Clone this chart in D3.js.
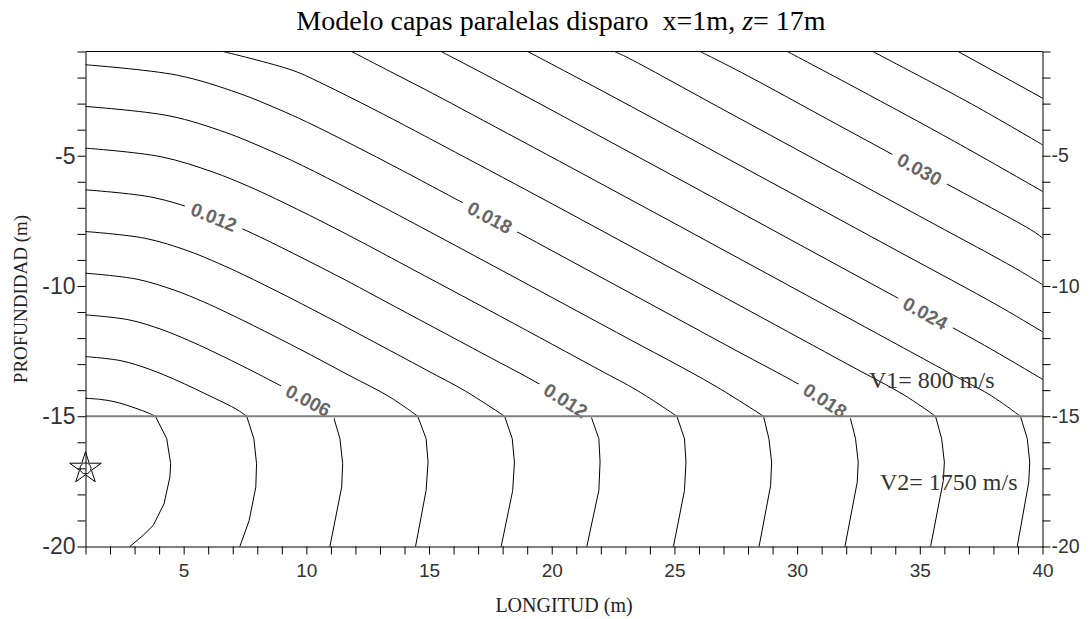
<!DOCTYPE html>
<html>
<head>
<meta charset="utf-8">
<script src="https://cdnjs.cloudflare.com/ajax/libs/d3/7.8.5/d3.min.js"></script>
<style>
  body { margin: 0; background: #fff; }
  svg { display: block; background: #fff; }
</style>
</head>
<body>
<svg width="1089" height="619"></svg>
<script>
// Contour levels (travel time, s)
var levels = [0.002, 0.004, 0.006, 0.008, 0.010, 0.012, 0.014, 0.016, 0.018,
              0.020, 0.022, 0.024, 0.026, 0.028, 0.030, 0.032, 0.034, 0.036];

// Upper layer (V1) contour lines, [x, z]
var upperLines = [
  [[1,-14.31],[1.57,-14.35],[2.12,-14.43],[2.63,-14.56],[3.10,-14.71],[3.55,-14.87],[3.85,-15]],
  [[1,-12.71],[2.45,-12.87],[3.62,-13.20],[4.59,-13.57],[5.47,-13.95],[6.31,-14.33],[7.13,-14.72],[7.57,-15]],
  [[1,-11.11],[2.77,-11.30],[4.13,-11.68],[5.20,-12.09],[6.13,-12.49],[7.83,-13.28],[9.46,-14.08],[10.26,-14.48],[11.10,-15]],
  [[1,-9.51],[3.10,-9.74],[4.65,-10.17],[5.81,-10.61],[6.78,-11.03],[8.52,-11.84],[10.17,-12.64],[11.78,-13.45],[13.38,-14.25],[14.54,-15]],
  [[1,-7.91],[3.43,-8.17],[5.17,-8.65],[6.42,-9.13],[7.44,-9.57],[9.22,-10.40],[10.88,-11.21],[12.50,-12.02],[14.90,-13.23],[16.49,-14.04],[18.08,-15]],
  [[1,-6.31],[3.75,-6.60],[5.69,-7.14],[7.02,-7.65],[8.09,-8.11],[9.91,-8.96],[11.59,-9.77],[13.21,-10.59],[17.22,-12.61],[19.60,-13.82],[21.60,-15]],
  [[1,-4.71],[4.08,-5.04],[6.20,-5.63],[7.63,-6.17],[8.74,-6.65],[10.60,-7.51],[12.30,-8.34],[13.93,-9.16],[17.94,-11.18],[21.92,-13.21],[23.50,-14.02],[25.10,-15]],
  [[1,-3.11],[4.41,-3.47],[6.72,-4.11],[8.24,-4.69],[9.40,-5.18],[11.30,-6.07],[13.01,-6.91],[14.65,-7.73],[18.67,-9.76],[22.64,-11.78],[26.61,-13.81],[28.63,-15]],
  [[1,-1.51],[4.74,-1.91],[7.24,-2.60],[8.85,-3.21],[10.05,-3.72],[11.99,-4.63],[13.71,-5.47],[15.37,-6.30],[19.39,-8.33],[23.37,-10.36],[27.34,-12.39],[30.51,-14.01],[32.15,-15]],
  [[6.60,-1],[9.46,-1.73],[10.71,-2.26],[12.69,-3.19],[14.42,-4.04],[16.08,-4.87],[20.12,-6.90],[24.10,-8.93],[28.07,-10.96],[32.03,-12.99],[34.40,-14.21],[35.64,-15]],
  [[11.84,-1],[13.38,-1.75],[15.13,-2.60],[16.80,-3.44],[20.84,-5.48],[24.83,-7.51],[28.80,-9.54],[32.76,-11.57],[36.72,-13.60],[37.91,-14.21],[39.10,-15]],
  [[15.49,-1],[15.84,-1.17],[17.52,-2.00],[21.57,-4.05],[25.55,-6.08],[29.53,-8.12],[33.49,-10.15],[37.45,-12.18],[40,-13.58]],
  [[19.02,-1],[22.29,-2.63],[26.28,-4.66],[30.25,-6.69],[34.22,-8.72],[38.18,-10.75],[40,-11.76]],
  [[22.55,-1],[23.02,-1.20],[27.01,-3.24],[30.98,-5.27],[34.95,-7.30],[38.91,-9.33],[40,-9.95]],
  [[26.05,-1],[27.74,-1.81],[31.71,-3.84],[35.68,-5.87],[39.64,-7.91],[40,-8.16]],
  [[29.60,-1],[32.44,-2.42],[36.41,-4.45],[40,-6.37]],
  [[33.08,-1],[37.14,-3.03],[40,-4.58]],
  [[36.56,-1],[40,-2.79]]
];

// Lower layer (V2) contour lines, levels 0.002 .. 0.022
var lowerLines = [
  [[3.85,-15],[4.31,-15.86],[4.47,-16.82],[4.44,-17.33],[4.20,-18.36],[3.76,-19.19],[3.35,-19.57],[2.81,-20]],
  [[7.57,-15],[7.86,-15.86],[7.97,-16.82],[7.94,-17.72],[7.67,-19.0],[7.29,-20]],
  [[11.10,-15],[11.37,-15.86],[11.48,-16.82],[11.44,-17.72],[10.96,-20]],
  [[14.54,-15],[14.88,-15.86],[14.96,-16.76],[14.88,-17.85],[14.45,-20]],
  [[18.08,-15],[18.39,-15.86],[18.48,-16.76],[18.41,-17.85],[17.94,-20]],
  [[21.60,-15],[21.92,-15.86],[21.97,-16.76],[21.92,-17.85],[21.43,-20]],
  [[25.10,-15],[25.41,-15.86],[25.47,-16.76],[25.41,-17.85],[24.96,-20]],
  [[28.63,-15],[28.85,-15.86],[28.96,-16.76],[28.92,-17.66],[28.45,-20]],
  [[32.15,-15],[32.38,-15.86],[32.49,-16.76],[32.45,-17.53],[31.95,-20]],
  [[35.64,-15],[35.89,-15.86],[36.00,-16.76],[35.96,-17.46],[35.44,-20]],
  [[39.10,-15],[39.38,-15.86],[39.48,-16.76],[39.44,-17.53],[38.97,-20]]
];

// Contour labels: level and x position along the line
var labelLevels = [0.012, 0.006, 0.018, 0.012, 0.030, 0.024, 0.018];
var labelX = [6.23, 10.08, 17.48, 20.57, 34.99, 35.23, 31.14];

// Axis tick labels
var xLabels = [5, 10, 15, 20, 25, 30, 35, 40];
var yLabels = [-5, -10, -15, -20];

// Model
var interfaceZ = -15;
var source = [1, -17];
var velocities = ["V1= 800 m/s", "V2= 1750 m/s"];

var svg = d3.select("svg"),
    width = +svg.attr("width"),
    height = +svg.attr("height");

var x = d3.scaleLinear().domain([1, 40]).range([85.5, 1042.5]);
var y = d3.scaleLinear().domain([-20, -1]).range([546.5, 51.5]);

var smooth = d3.line()
    .x(function (d) { return x(d[0]); })
    .y(function (d) { return y(d[1]); })
    .curve(d3.curveCatmullRom.alpha(0.5));
var straight = d3.line()
    .x(function (d) { return x(d[0]); })
    .y(function (d) { return y(d[1]); });

// Contour lines
var contours = svg.append("g")
    .attr("fill", "none")
    .attr("stroke", "#000")
    .attr("stroke-width", 1);
contours.selectAll(".upper")
    .data(upperLines)
    .enter().append("path")
    .attr("class", "upper")
    .attr("d", smooth);
contours.selectAll(".lower")
    .data(lowerLines)
    .enter().append("path")
    .attr("class", "lower")
    .attr("d", straight);

// place each label on its line
var labels = labelLevels.map(function (lv, i) {
  var line = upperLines[levels.indexOf(lv)], xv = labelX[i];
  for (var k = 0; k < line.length - 1; k++) {
    var a = line[k], b = line[k + 1];
    if (xv >= a[0] && xv <= b[0]) {
      var t = (xv - a[0]) / (b[0] - a[0]);
      var zv = a[1] + t * (b[1] - a[1]);
      var ang = Math.atan2(y(b[1]) - y(a[1]), x(b[0]) - x(a[0])) * 180 / Math.PI;
      return { level: lv, px: x(xv), py: y(zv), angle: ang };
    }
  }
});

var fmt = d3.format(".3f");
var labelG = svg.selectAll(".clabel")
    .data(labels)
    .enter().append("g")
    .attr("class", "clabel")
    .attr("transform", function (d) { return "translate(" + d.px + "," + d.py + ") rotate(" + d.angle + ")"; });
labelG.append("rect")
    .attr("x", -31).attr("y", -7)
    .attr("width", 62).attr("height", 14)
    .attr("fill", "#fff");

// Layer interface
svg.append("line")
    .attr("x1", x(1)).attr("x2", x(40))
    .attr("y1", y(interfaceZ)).attr("y2", y(interfaceZ))
    .attr("stroke", "#808080")
    .attr("stroke-width", 2);

labelG.append("text")
    .attr("text-anchor", "middle")
    .attr("dy", "0.36em")
    .attr("font-family", "'Liberation Sans', Arial, sans-serif")
    .attr("font-weight", "bold")
    .attr("font-size", 19)
    .attr("fill", "#666")
    .text(function (d) { return fmt(d.level); });

// Shot point
svg.append("path")
    .attr("d", d3.symbol(d3.symbolStar, 310)())
    .attr("transform", "translate(" + x(source[0]) + "," + y(source[1]) + ")")
    .attr("fill", "none")
    .attr("stroke", "#000");
svg.append("circle")
    .attr("cx", x(source[0])).attr("cy", y(source[1]))
    .attr("r", 5.5)
    .attr("fill", "none")
    .attr("stroke", "#000");

// Axes
function styleAxis(g, size) {
  g.select(".domain").attr("stroke", "#000");
  g.selectAll(".tick line").attr("stroke", "#000");
  g.selectAll(".tick text")
      .attr("fill", "#333")
      .attr("font-size", size)
      .attr("font-family", "'Liberation Sans', Arial, sans-serif");
}

svg.append("g")
    .attr("transform", "translate(0," + y(-20) + ")")
    .call(d3.axisBottom(x)
        .tickValues(d3.range(1, 41))
        .tickSize(8).tickSizeOuter(0).tickPadding(9)
        .tickFormat(function (d) { return xLabels.indexOf(d) >= 0 ? d : ""; }))
    .call(styleAxis, 19);

svg.append("g")
    .attr("transform", "translate(" + x(1) + ",0)")
    .call(d3.axisLeft(y)
        .tickValues(d3.range(-20, 0))
        .tickSize(8).tickSizeOuter(0).tickPadding(2)
        .tickFormat(function (d) { return yLabels.indexOf(d) >= 0 ? String(d) : ""; }))
    .call(styleAxis, 23);

svg.append("g")
    .attr("transform", "translate(" + x(40) + ",0)")
    .call(d3.axisRight(y)
        .tickValues(d3.range(-20, 0))
        .tickSize(8).tickSizeOuter(0).tickPadding(1)
        .tickFormat(function (d) { return yLabels.indexOf(d) >= 0 ? String(d) : ""; }))
    .call(styleAxis, 19.5);

svg.append("line")
    .attr("x1", x(1)).attr("x2", x(40))
    .attr("y1", y(-1)).attr("y2", y(-1))
    .attr("stroke", "#000");

// Titles
var title = svg.append("text")
    .attr("x", 561).attr("y", 30)
    .attr("text-anchor", "middle")
    .attr("font-family", "'Liberation Serif', 'Times New Roman', serif")
    .attr("font-size", 28)
    .style("white-space", "pre");
title.append("tspan").text("Modelo capas paralelas disparo  x=1m, ");
title.append("tspan").attr("font-style", "italic").text("z");
title.append("tspan").text("= 17m");

svg.append("text")
    .attr("x", 564).attr("y", 612)
    .attr("text-anchor", "middle")
    .attr("font-family", "'Liberation Serif', 'Times New Roman', serif")
    .attr("font-size", 20)
    .attr("fill", "#222")
    .text("LONGITUD (m)");

svg.append("text")
    .attr("transform", "translate(27,299) rotate(-90)")
    .attr("text-anchor", "middle")
    .attr("font-family", "'Liberation Serif', 'Times New Roman', serif")
    .attr("font-size", 19)
    .attr("fill", "#222")
    .text("PROFUNDIDAD (m)");

// Layer velocities
svg.append("text")
    .attr("x", 869).attr("y", 388)
    .attr("font-family", "'Liberation Serif', 'Times New Roman', serif")
    .attr("font-size", 24)
    .attr("fill", "#333")
    .text(velocities[0]);
svg.append("text")
    .attr("x", 880).attr("y", 490)
    .attr("font-family", "'Liberation Serif', 'Times New Roman', serif")
    .attr("font-size", 24)
    .attr("fill", "#333")
    .text(velocities[1]);
</script>
</body>
</html>
